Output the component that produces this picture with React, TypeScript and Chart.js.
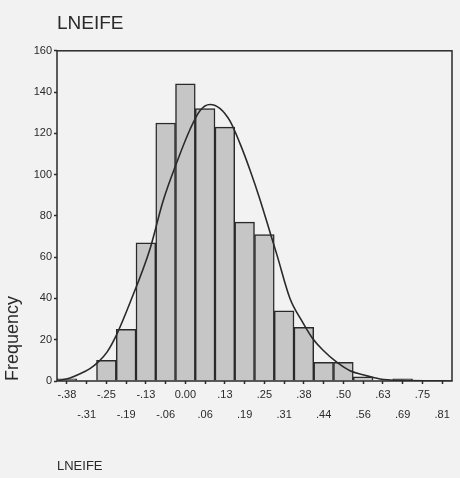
import React, { useEffect, useRef } from "react";
import { Chart, registerables } from "chart.js";

Chart.register(...registerables);

const binLabels = ["-.38", "-.31", "-.25", "-.19", "-.13", "-.06", "0.00", ".06", ".13", ".19", ".25", ".31", ".38", ".44", ".50", ".56", ".63", ".69", ".75", ".81"];
const frequencies = [1, 0, 10, 25, 67, 125, 144, 132, 123, 77, 71, 34, 26, 9, 9, 2, 0, 1, 0, 0];
const curveX = [-0.406, -0.365, -0.333, -0.302, -0.277, -0.248, -0.216, -0.175, -0.112, -0.071, -0.027, 0.015, 0.046, 0.078, 0.11, 0.141, 0.173, 0.205, 0.236, 0.268, 0.29, 0.331, 0.369, 0.401, 0.435, 0.48, 0.521, 0.562, 0.616, 0.679, 0.843];
const curveY = [0, 1.5, 3.5, 6, 9, 14, 23, 38, 64, 87, 106, 122, 131, 134, 132, 126, 115, 102, 88, 72, 61, 40, 29, 21, 15, 9, 5, 3, 1, 0.3, 0];
const yTicks = [0, 20, 40, 60, 80, 100, 120, 140, 160];

const FONT = "'Liberation Sans', Arial, sans-serif";
const INK = "#2a2a2a";

const frame = {
  id: "frame",
  afterDatasetsDraw(chart: any) {
    const { ctx, chartArea: a } = chart;
    ctx.save();
    ctx.strokeStyle = INK;
    ctx.lineWidth = 1.5;
    ctx.strokeRect(a.left, a.top, a.right - a.left, a.bottom - a.top);
    ctx.restore();
  },
};

const bg = {
  id: "bg",
  beforeDraw(chart: any) {
    const { ctx, width, height } = chart;
    ctx.save();
    ctx.fillStyle = "#f2f2f2";
    ctx.fillRect(0, 0, width, height);
    ctx.restore();
  },
};

export default function App() {
  const ref = useRef<HTMLCanvasElement>(null);
  useEffect(() => {
    const labels = binLabels.map((l, i) => (i % 2 === 0 ? [l, ""] : ["", l]));
    const chart = new Chart(ref.current!, {
      type: "bar",
      data: {
        labels,
        datasets: [
          {
            type: "line",
            data: curveX.map((x, i) => ({ x, y: curveY[i] })),
            xAxisID: "x2",
            yAxisID: "y",
            borderColor: INK,
            borderWidth: 1.6,
            pointRadius: 0,
            cubicInterpolationMode: "monotone",
            fill: false,
            order: 0,
          } as any,
          {
            type: "bar",
            data: frequencies,
            xAxisID: "x",
            yAxisID: "y",
            backgroundColor: "#c6c6c6",
            borderColor: INK,
            borderWidth: 1.5,
            barPercentage: 1,
            categoryPercentage: 1,
            grouped: false,
            order: 1,
          } as any,
        ],
      },
      options: {
        animation: false,
        responsive: false,
        layout: { padding: { left: 0, right: 8, top: 0, bottom: 0 } },
        plugins: {
          legend: { display: false },
          tooltip: { enabled: false },
          title: {
            display: true,
            text: "LNEIFE",
            align: "start",
            fullSize: false,
            color: INK,
            font: { family: FONT, size: 19, weight: "normal" },
            padding: { top: 12, bottom: 16 },
          } as any,
        },
        scales: {
          x: {
            type: "category",
            offset: true,
            grid: { display: true, drawOnChartArea: false, offset: false, tickLength: 3, tickColor: INK, tickWidth: 1.5 },
            border: { display: false },
            ticks: {
              color: INK,
              autoSkip: false,
              maxRotation: 0,
              padding: 1,
              font: { family: FONT, size: 11, lineHeight: 1.8 },
            },
            title: {
              display: true,
              text: "LNEIFE",
              align: "start",
              color: INK,
              font: { family: FONT, size: 13 },
              padding: { top: 0, bottom: 4 },
            },
            afterFit(scale: any) {
              scale.height = 97;
            },
          },
          x2: {
            type: "linear",
            display: false,
            offset: false,
            grid: { offset: false },
            min: -0.40625,
            max: 0.84375,
          },
          y: {
            min: 0,
            max: 160,
            afterBuildTicks(scale: any) {
              scale.ticks = yTicks.map((v) => ({ value: v }));
            },
            grid: { display: true, drawOnChartArea: false, tickLength: 3, tickColor: INK, tickWidth: 1.5 },
            border: { display: false },
            ticks: {
              color: INK,
              padding: 2,
              font: { family: FONT, size: 11 },
            },
            title: {
              display: true,
              text: "Frequency",
              align: "start",
              color: INK,
              font: { family: FONT, size: 18 },
              padding: { top: 2, bottom: 0 },
            },
            afterFit(scale: any) {
              scale.width = 57;
            },
          },
        },
      },
      plugins: [bg, frame],
    });
    return () => chart.destroy();
  }, []);
  return (
    <div style={{ position: "fixed", left: 0, top: 0, width: 460, height: 478, background: "#f2f2f2" }}>
      <canvas ref={ref} width={460} height={478} style={{ display: "block" }} />
    </div>
  );
}
